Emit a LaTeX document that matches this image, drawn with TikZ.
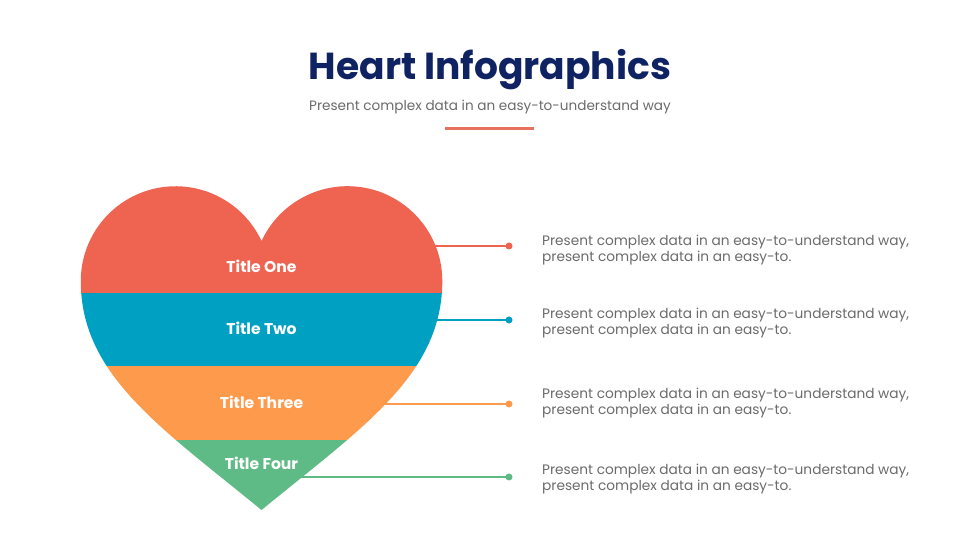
\documentclass[tikz,border=0pt]{standalone}
\usepackage{fontspec}
\setmainfont{Poppins}
\definecolor{hred}{HTML}{EF6351}
\definecolor{hblue}{HTML}{00A0C3}
\definecolor{horange}{HTML}{FD9A4C}
\definecolor{hgreen}{HTML}{5FBB86}
\definecolor{navy}{HTML}{0F2362}
\definecolor{txtgray}{HTML}{6B6B6B}
\definecolor{ulred}{HTML}{E8705E}
\tikzset{
  band label/.style={text=white, font=\fontsize{15.6}{18}\selectfont\bfseries, anchor=base, inner sep=0pt},
  desc/.style={text=txtgray, font=\fontsize{13.7}{16}\selectfont, align=left, anchor=base west, inner sep=0pt},
  dotmark/.style={circle, inner sep=0pt, minimum size=7pt},
  link/.style={line width=2pt}
}
\begin{document}
\begin{tikzpicture}[x=1pt,y=1pt]
\useasboundingbox (0,0) rectangle (980,551);
\fill[white] (0,0) rectangle (980,551);

% title
\node[text=navy, font=\fontsize{37.6}{42}\selectfont\bfseries, anchor=base, inner sep=0pt] (title) at (490,471) {Heart Infographics};
\node[text=txtgray, font=\fontsize{13.6}{16}\selectfont, anchor=base, inner sep=0pt] (subtitle) at (490,440) {Present complex data in an easy-to-understand way};
\draw[ulred, line width=3pt] (445,422) -- (534,422);

% connectors (start inside heart, drawn first)
\coordinate (s1) at (420,305);
\coordinate (s2) at (420,231);
\coordinate (s3) at (370,147);
\coordinate (s4) at (290,74);
\node[dotmark, fill=hred] (d1) at (509,305) {};
\node[dotmark, fill=hblue] (d2) at (509,231) {};
\node[dotmark, fill=horange] (d3) at (509,147) {};
\node[dotmark, fill=hgreen] (d4) at (509,74) {};
\draw[link, hred] (s1) -- (d1.center);
\draw[link, hblue] (s2) -- (d2.center);
\draw[link, horange] (s3) -- (d3.center);
\draw[link, hgreen] (s4) -- (d4.center);

% heart
\begin{scope}
\clip (261.5,310) arc[start angle=25, end angle=180, radius=94.8pt]
  .. controls (80.7,176) and (161.5,123) .. (261.5,41)
  .. controls (361.5,123) and (442.3,176) .. (442.3,270)
  arc[start angle=0, end angle=155, radius=94.8pt] -- cycle;
\fill[hred] (60,258) rectangle (460,420);
\fill[hblue] (60,185) rectangle (460,258);
\fill[horange] (60,111) rectangle (460,185);
\fill[hgreen] (60,30) rectangle (460,111);
\end{scope}

\node[band label] (t1) at (261.5,278) {Title One};
\node[band label] (t2) at (261.5,216) {Title Two};
\node[band label] (t3) at (261.5,142) {Title Three};
\node[band label] (t4) at (261.5,81) {Title Four};

% descriptions (base = baseline of last line)
\node[desc] (p1) at (542,289) {Present complex data in an easy-to-understand way,\\present complex data in an easy-to.};
\node[desc] (p2) at (542,216) {Present complex data in an easy-to-understand way,\\present complex data in an easy-to.};
\node[desc] (p3) at (542,136) {Present complex data in an easy-to-understand way,\\present complex data in an easy-to.};
\node[desc] (p4) at (542,60) {Present complex data in an easy-to-understand way,\\present complex data in an easy-to.};
\end{tikzpicture}
\end{document}
